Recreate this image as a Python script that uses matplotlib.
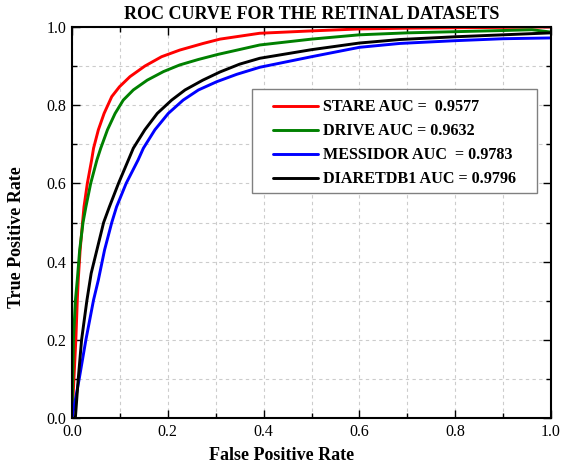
import matplotlib
matplotlib.use("Agg")
import matplotlib.pyplot as plt
import matplotlib.ticker as mticker
from matplotlib.patches import Rectangle

# ===== Data =====
stare_fpr = [0.0, 0.004, 0.008, 0.011, 0.013, 0.017, 0.022, 0.025, 0.032, 0.041,
             0.045, 0.055, 0.067, 0.083, 0.099, 0.121, 0.152, 0.187, 0.225, 0.274,
             0.309, 0.392, 0.500, 0.600, 0.700, 0.800, 0.900, 1.0]
stare_tpr = [0.0, 0.10, 0.20, 0.30, 0.353, 0.43, 0.50, 0.54, 0.60, 0.66,
             0.69, 0.737, 0.779, 0.822, 0.847, 0.873, 0.900, 0.924, 0.941, 0.958,
             0.969, 0.984, 0.990, 0.995, 0.997, 0.998, 0.999, 1.0]

drive_fpr = [0.0, 0.003, 0.007, 0.011, 0.016, 0.023, 0.029, 0.039, 0.052, 0.060,
             0.074, 0.090, 0.107, 0.128, 0.157, 0.191, 0.225, 0.264, 0.305, 0.392,
             0.500, 0.600, 0.700, 0.800, 0.900, 0.960, 1.0]
drive_tpr = [0.0, 0.20, 0.30, 0.353, 0.43, 0.50, 0.54, 0.60, 0.66, 0.69,
             0.737, 0.779, 0.813, 0.839, 0.864, 0.886, 0.903, 0.917, 0.930, 0.954,
             0.969, 0.980, 0.985, 0.988, 0.991, 0.993, 0.987]

messidor_fpr = [0.0, 0.015, 0.029, 0.045, 0.055, 0.068, 0.083, 0.093, 0.113, 0.138,
                0.149, 0.173, 0.201, 0.232, 0.264, 0.302, 0.344, 0.392, 0.500, 0.600,
                0.685, 0.800, 0.900, 1.0]
messidor_tpr = [0.0, 0.10, 0.20, 0.302, 0.353, 0.43, 0.50, 0.54, 0.60, 0.66,
                0.69, 0.737, 0.779, 0.813, 0.839, 0.860, 0.879, 0.897, 0.924, 0.948,
                0.958, 0.965, 0.970, 0.972]

diaret_fpr = [0.007, 0.013, 0.020, 0.031, 0.040, 0.052, 0.066, 0.078, 0.097, 0.116,
              0.128, 0.152, 0.178, 0.208, 0.236, 0.273, 0.309, 0.350, 0.392, 0.500,
              0.600, 0.685, 0.800, 0.900, 1.0]
diaret_tpr = [0.0, 0.10, 0.20, 0.30, 0.37, 0.43, 0.50, 0.54, 0.60, 0.655,
              0.69, 0.737, 0.779, 0.813, 0.839, 0.864, 0.885, 0.905, 0.920, 0.942,
              0.959, 0.968, 0.975, 0.980, 0.985]

labels = ["STARE AUC =  0.9577", "DRIVE AUC = 0.9632",
          "MESSIDOR AUC  = 0.9783", "DIARETDB1 AUC = 0.9796"]
colors = ["#ff0000", "#008000", "#0000ff", "#000000"]

series = [(stare_fpr, stare_tpr), (drive_fpr, drive_tpr),
          (messidor_fpr, messidor_tpr), (diaret_fpr, diaret_tpr)]

# ===== Style =====
plt.rcParams["font.family"] = ["Liberation Serif", "DejaVu Serif"]
plt.rcParams["font.size"] = 11.5

fig = plt.figure(figsize=(5.63, 4.67), dpi=100)
ax = fig.add_axes([0.1279, 0.1049, 0.8508, 0.8373])

for (x, y), lab, c in zip(series, labels, colors):
    ax.plot(x, y, color=c, linewidth=2.1, label=lab,
            solid_joinstyle="round", solid_capstyle="round")

ax.set_xlim(0, 1)
ax.set_ylim(0, 1)
ax.xaxis.set_major_locator(mticker.MultipleLocator(0.2))
ax.yaxis.set_major_locator(mticker.MultipleLocator(0.2))
ax.xaxis.set_minor_locator(mticker.MultipleLocator(0.1))
ax.yaxis.set_minor_locator(mticker.MultipleLocator(0.1))
ax.xaxis.set_major_formatter(mticker.FormatStrFormatter("%.1f"))
ax.yaxis.set_major_formatter(mticker.FormatStrFormatter("%.1f"))

ax.tick_params(which="both", direction="in", top=True, right=True, width=1.0)
ax.tick_params(which="major", length=6, labelsize=11.5, pad=4)
ax.tick_params(which="minor", length=3.5)

ax.grid(True, which="both", linestyle=(0, (3, 3)), color="#cccccc", linewidth=0.8)
ax.set_axisbelow(True)

for sp in ax.spines.values():
    sp.set_linewidth(1.5)

ax.set_title("ROC CURVE FOR THE RETINAL DATASETS", fontsize=13,
             fontweight="bold", pad=6)
ax.set_xlabel("False Positive Rate", fontsize=13, fontweight="bold", va="center")
ax.set_ylabel("True Positive Rate", fontsize=13, fontweight="bold", va="center")
ax.xaxis.set_label_coords(0.438, -0.097)
ax.yaxis.set_label_coords(-0.115, 0.462)

# legend frame drawn separately so the side padding matches the reference
ax.add_patch(Rectangle((0.3758, 0.5754), 0.595, 0.266, transform=ax.transAxes,
                       facecolor="white", edgecolor="#808080", linewidth=1.0,
                       zorder=4))
leg = ax.legend(loc="upper left", bbox_to_anchor=(0.4196, 0.815),
                prop={"weight": "bold", "size": 11.6},
                frameon=False, handlelength=2.8, handletextpad=0.3,
                labelspacing=0.5, borderpad=0, borderaxespad=0)
leg.set_zorder(5)

fig.savefig("out.png", dpi=100)
